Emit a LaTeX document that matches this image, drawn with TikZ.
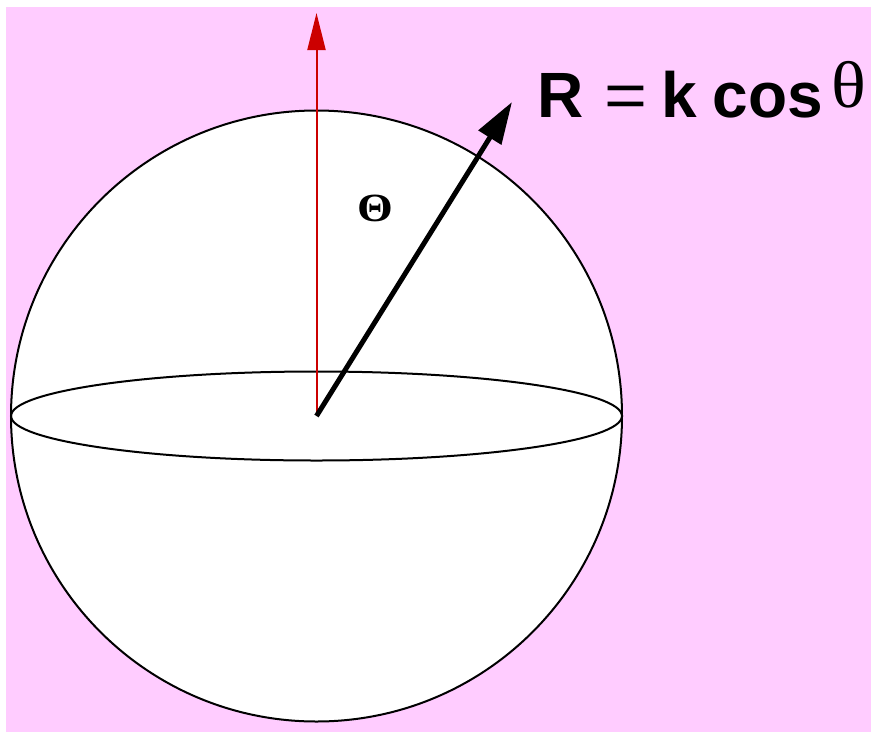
\documentclass[tikz,border=0pt]{standalone}
\usepackage{fontspec}
\setmainfont{Liberation Serif}
\setsansfont{Liberation Sans}
\usetikzlibrary{arrows.meta}
\definecolor{bgpink}{RGB}{255,204,255}
\definecolor{axisred}{RGB}{204,0,0}

\begin{document}
\begin{tikzpicture}[x=1pt,y=-1pt,
    axis/.style={draw=axisred, line width=2pt, -{Triangle[length=37pt,width=18pt]}, axisred},
    vector/.style={line width=5pt, -{Triangle[length=42pt,width=26pt]}},
    bigsans/.style={font=\sffamily\fontsize{64}{64}\selectfont, anchor=base west},
    boldsans/.style={font=\sffamily\bfseries\fontsize{64}{64}\selectfont, anchor=base west},
    every node/.style={inner sep=0pt, outer sep=0pt}
  ]

  % Fondo
  \fill[white] (0,0) rectangle (871,732);
  \fill[bgpink] (6,7) rectangle (871,732);

  % Esfera y ecuador
  \coordinate (o) at (316.5,416);
  \filldraw[fill=white, draw=black, line width=2pt] (o) circle [radius=305.5];
  \draw[line width=2pt] (o) ellipse [x radius=305.5, y radius=44.5];

  % Eje vertical y vector R
  \coordinate (up) at (316.5,13);
  \coordinate (tip) at (512,102);
  \draw[axis] (o) -- (up);
  \draw[vector] (o) -- (tip);

  % Etiquetas
  \node[font=\bfseries\fontsize{40}{40}\selectfont, xscale=1.15] (angle) at (375,208.5) {Θ};
  \node[boldsans] (rlabel) at (537,117) {R};
  \node[bigsans, xscale=1.15] (eq) at (604,117) {=};
  \node[boldsans] (kcos) at (661,117) {k\hspace{0.25em}cos};
  \node[font=\rmfamily\fontsize{66}{66}\selectfont, anchor=base west, xscale=1.1] (theta) at (831,107) {θ};

\end{tikzpicture}
\end{document}
